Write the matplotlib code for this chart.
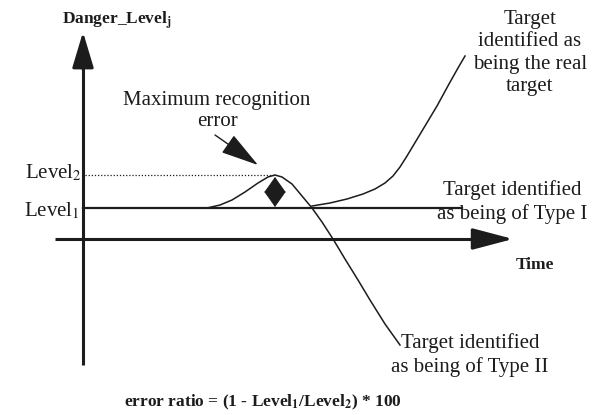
import numpy as np
import matplotlib.pyplot as plt

plt.rcParams['font.family'] = 'Liberation Serif'
plt.rcParams['mathtext.fontset'] = 'stix'

ink = '#1c1c1c'

# levels (danger units above the time axis)
level1 = 31
level2 = 64

# type I line: flat at level1
type1_t = [0, 379]
type1_d = [level1, level1]

# bump that peaks at level2 and then falls (type II)
bump_t = [124, 137, 149, 162, 175, 185, 192, 199, 209, 219, 229, 239, 250, 262, 275, 287, 302, 317]
bump_d = [31, 34, 39, 47, 56, 62, 64, 62, 55, 43, 31, 17, 0, -20, -41, -61, -85, -106]

# real target curve
real_t = [229, 247, 264, 280, 292, 302, 310, 317, 324, 330, 342, 354, 366, 375, 382]
real_d = [33, 36, 40, 45, 50, 56, 63, 72, 83, 93, 113, 133, 155, 171, 183]

fig = plt.figure(figsize=(5.97, 4.15), dpi=100)
ax = fig.add_axes([0, 0, 1, 1])
ax.set_xlim(-83, 514)
ax.set_ylim(-176, 239)
ax.axis('off')

# axes with arrows
ax.plot([0, 0], [-126, 185], color=ink, lw=2.2, solid_capstyle='butt')
ax.annotate('', xy=(0, 207), xytext=(0, 170),
            arrowprops=dict(arrowstyle='-|>,head_length=1.1,head_width=0.33',
                            color=ink, lw=2.2, mutation_scale=20,
                            shrinkA=0, shrinkB=0))
ax.plot([-28, 400], [0, 0], color=ink, lw=2.2, solid_capstyle='butt')
ax.annotate('', xy=(430, 0), xytext=(390, 0),
            arrowprops=dict(arrowstyle='-|>,head_length=1.25,head_width=0.33',
                            color=ink, lw=2.2, mutation_scale=20,
                            shrinkA=0, shrinkB=0))

# curves
ax.plot(type1_t, type1_d, color=ink, lw=1.6)
ax.plot(bump_t, bump_d, color=ink, lw=1.1)
ax.plot(real_t, real_d, color=ink, lw=1.1)
ax.plot([2, 192], [level2, level2], color=ink, lw=0.9, ls=(0, (1, 1.5)))

# double arrow between levels (two triangles with a thin gap)
mid = (level1 + level2) / 2
for tip, sgn in ((level2 - 2, 1), (level1 + 1, -1)):
    ax.annotate('', xy=(192, tip), xytext=(192, mid + sgn * 1.5),
                arrowprops=dict(arrowstyle='-|>,head_length=0.85,head_width=0.6',
                                color=ink, lw=0.8, mutation_scale=12,
                                shrinkA=0, shrinkB=0))

# maximum recognition error arrow
ax.annotate('', xy=(175, 74), xytext=(132, 104),
            arrowprops=dict(arrowstyle='-|>,head_length=1.5,head_width=0.42',
                            color=ink, lw=1.0, mutation_scale=16,
                            shrinkA=0, shrinkB=0))

fs = 15
ls = 1.22
ax.text(-21, 218, r'Danger_Level$_{\mathbf{j}}$', fontsize=12.5, fontweight='bold',
        ha='left', va='center', color=ink)
ax.text(134, 128, 'Maximum recognition\nerror', fontsize=fs, ha='center', va='center',
        linespacing=1.12, color=ink)
ax.text(-1, level2 + 2, r'Level$_2$', fontsize=fs, ha='right', va='center', color=ink)
ax.text(-3, level1 - 3, r'Level$_1$', fontsize=fs, ha='right', va='center', color=ink)
ax.text(447, 186, 'Target\nidentified as\nbeing the real\ntarget', fontsize=fs,
        ha='center', va='center', linespacing=ls, color=ink)
ax.text(429, 37, 'Target identified\nas being of Type I', fontsize=fs,
        ha='center', va='center', linespacing=ls, color=ink)
ax.text(452, -26, 'Time', fontsize=12.5, fontweight='bold', ha='center', va='center',
        color=ink)
ax.text(387, -116, 'Target identified\nas being of Type II', fontsize=fs,
        ha='center', va='center', linespacing=ls, color=ink)
ax.text(180, -163, r'error ratio = (1 - Level$_{\mathbf{1}}$/Level$_{\mathbf{2}}$) * 100',
        fontsize=12.5, fontweight='bold', ha='center', va='center', color=ink)

fig.savefig('out.png', dpi=100)
